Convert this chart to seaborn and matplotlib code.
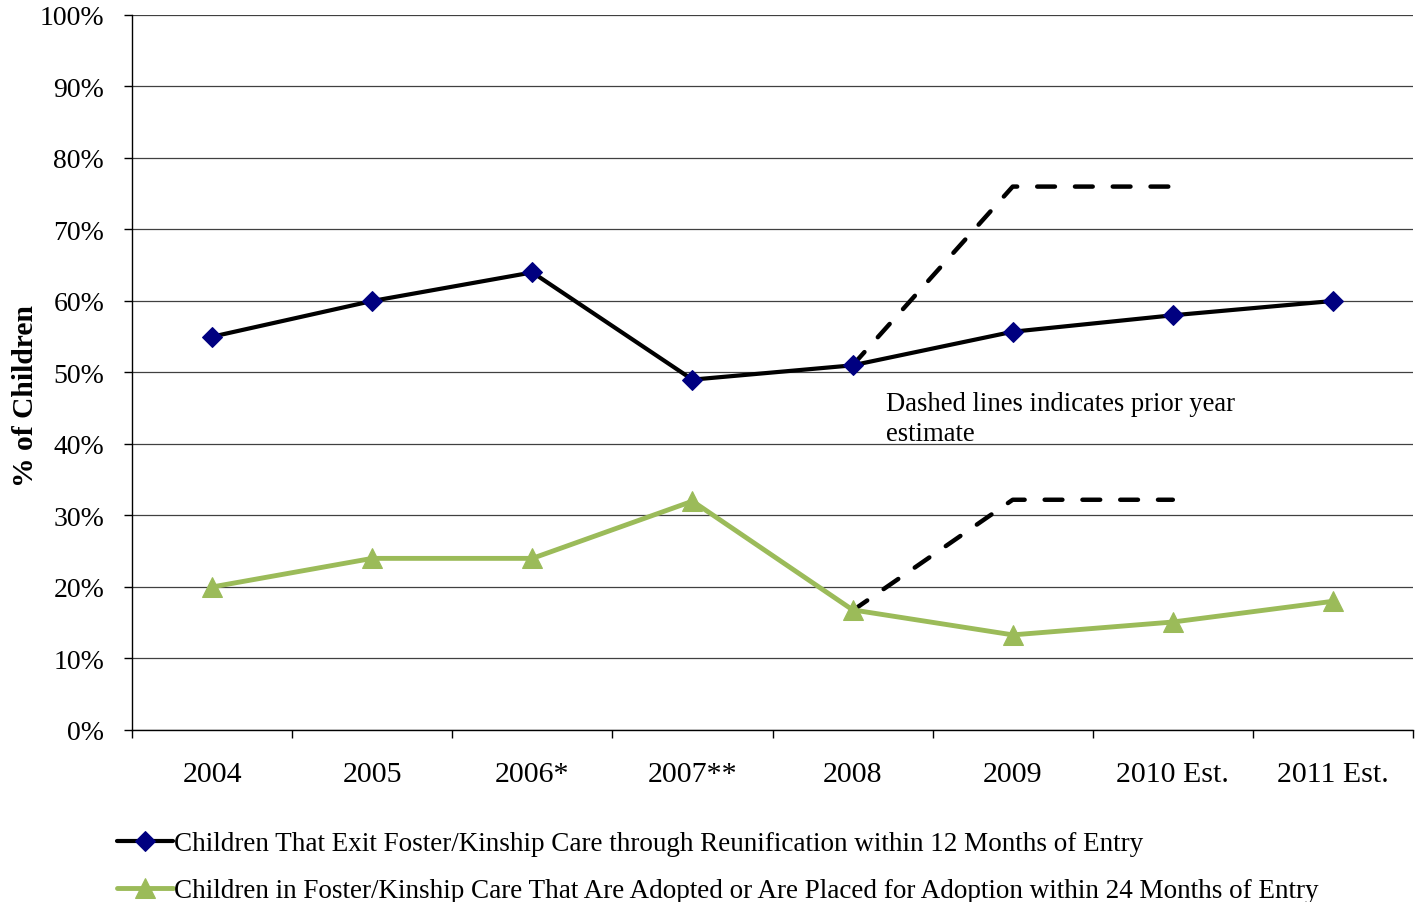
import seaborn as sns
import pandas as pd
import numpy as np
import matplotlib.pyplot as plt
import matplotlib.ticker as ticker

years = ['2004', '2005', '2006*', '2007**', '2008', '2009', '2010 Est.', '2011 Est.']
reunification = [55, 60, 64, 49, 51, 55.7, 58, 60]
adoption = [20, 24, 24, 32, 16.8, 13.3, 15.1, 18]
# prior year estimates (dashed), for 2008-2010
prior_years = ['2008', '2009', '2010 Est.']
prior_reunification = [51, 76, 76]
prior_adoption = [16.7, 32.2, 32.2]

label_reun = 'Children That Exit Foster/Kinship Care through Reunification within 12 Months of Entry'
label_adopt = 'Children in Foster/Kinship Care That Are Adopted or Are Placed for Adoption within 24 Months of Entry'

sns.set_theme(style='white')
plt.rcParams['font.family'] = ['Liberation Serif', 'DejaVu Serif']
for k in ['text.color', 'axes.labelcolor', 'xtick.color', 'ytick.color']:
    plt.rcParams[k] = 'black'

pos = {y: i for i, y in enumerate(years)}
df = pd.DataFrame({'x': np.arange(len(years)), 'reun': reunification, 'adopt': adoption})
prior_df = pd.DataFrame({'x': [pos[y] for y in prior_years],
                         'reun': prior_reunification, 'adopt': prior_adoption})

fig = plt.figure(figsize=(14.18, 9.03), dpi=100)
ax = fig.add_axes([0.0931, 0.1905, 0.9034, 0.7918])

dash_kw = dict(color='black', lw=3.2, dashes=(4, 4.5), dash_capstyle='round', legend=False)
sns.lineplot(data=prior_df, x='x', y='reun', ax=ax, sort=False, **dash_kw)
sns.lineplot(data=prior_df, x='x', y='adopt', ax=ax, sort=False, **dash_kw)

sns.lineplot(data=df, x='x', y='reun', ax=ax, sort=False, color='black', lw=3,
             marker='D', markersize=10, markerfacecolor='#000080', markeredgecolor='#000080',
             label=label_reun)
sns.lineplot(data=df, x='x', y='adopt', ax=ax, sort=False, color='#9BBB59', lw=3.5,
             marker='^', markersize=14, markerfacecolor='#9BBB59', markeredgecolor='#9BBB59',
             label=label_adopt)

ax.set_xlim(-0.5, len(years) - 0.5)
ax.set_ylim(0, 100)
ax.yaxis.set_major_locator(ticker.MultipleLocator(10))
ax.yaxis.set_major_formatter(ticker.PercentFormatter(decimals=0))
ax.grid(axis='y', color='#404040', lw=0.9)
ax.set_axisbelow(True)

# category boundaries as ticks, labels centred between them
ax.set_xticks(np.arange(len(years) + 1) - 0.5)
ax.set_xticklabels([])
ax.set_xticks(np.arange(len(years)), minor=True)
ax.set_xticklabels(years, minor=True)
ax.tick_params(axis='x', which='major', direction='out', length=6, width=1, color='black', bottom=True)
ax.tick_params(axis='x', which='minor', length=0, pad=22, labelsize=21.5)
ax.tick_params(axis='y', direction='out', length=6, width=1, color='black', left=True, pad=14, labelsize=20)

for s in ['top', 'right']:
    ax.spines[s].set_visible(False)
for s in ['left', 'bottom']:
    ax.spines[s].set_color('black')
    ax.spines[s].set_linewidth(1)

ax.set_xlabel('')
ax.set_ylabel('% of Children', fontsize=21.3, fontweight='bold')
ax.yaxis.set_label_coords(-0.0725, 0.4685)

ax.text(4.206, 47.4, 'Dashed lines indicates prior year\nestimate', fontsize=19.2,
        va='top', ha='left', linespacing=1.28)

handles, labels = ax.get_legend_handles_labels()
ax.get_legend().remove()
fig.legend(handles, labels, loc='center left', bbox_to_anchor=(0.0825, 0.0385),
           frameon=False, fontsize=19.5, handlelength=2.05, handletextpad=0.05,
           labelspacing=0.8, borderaxespad=0, borderpad=0)

fig.savefig('out.png', dpi=100)
